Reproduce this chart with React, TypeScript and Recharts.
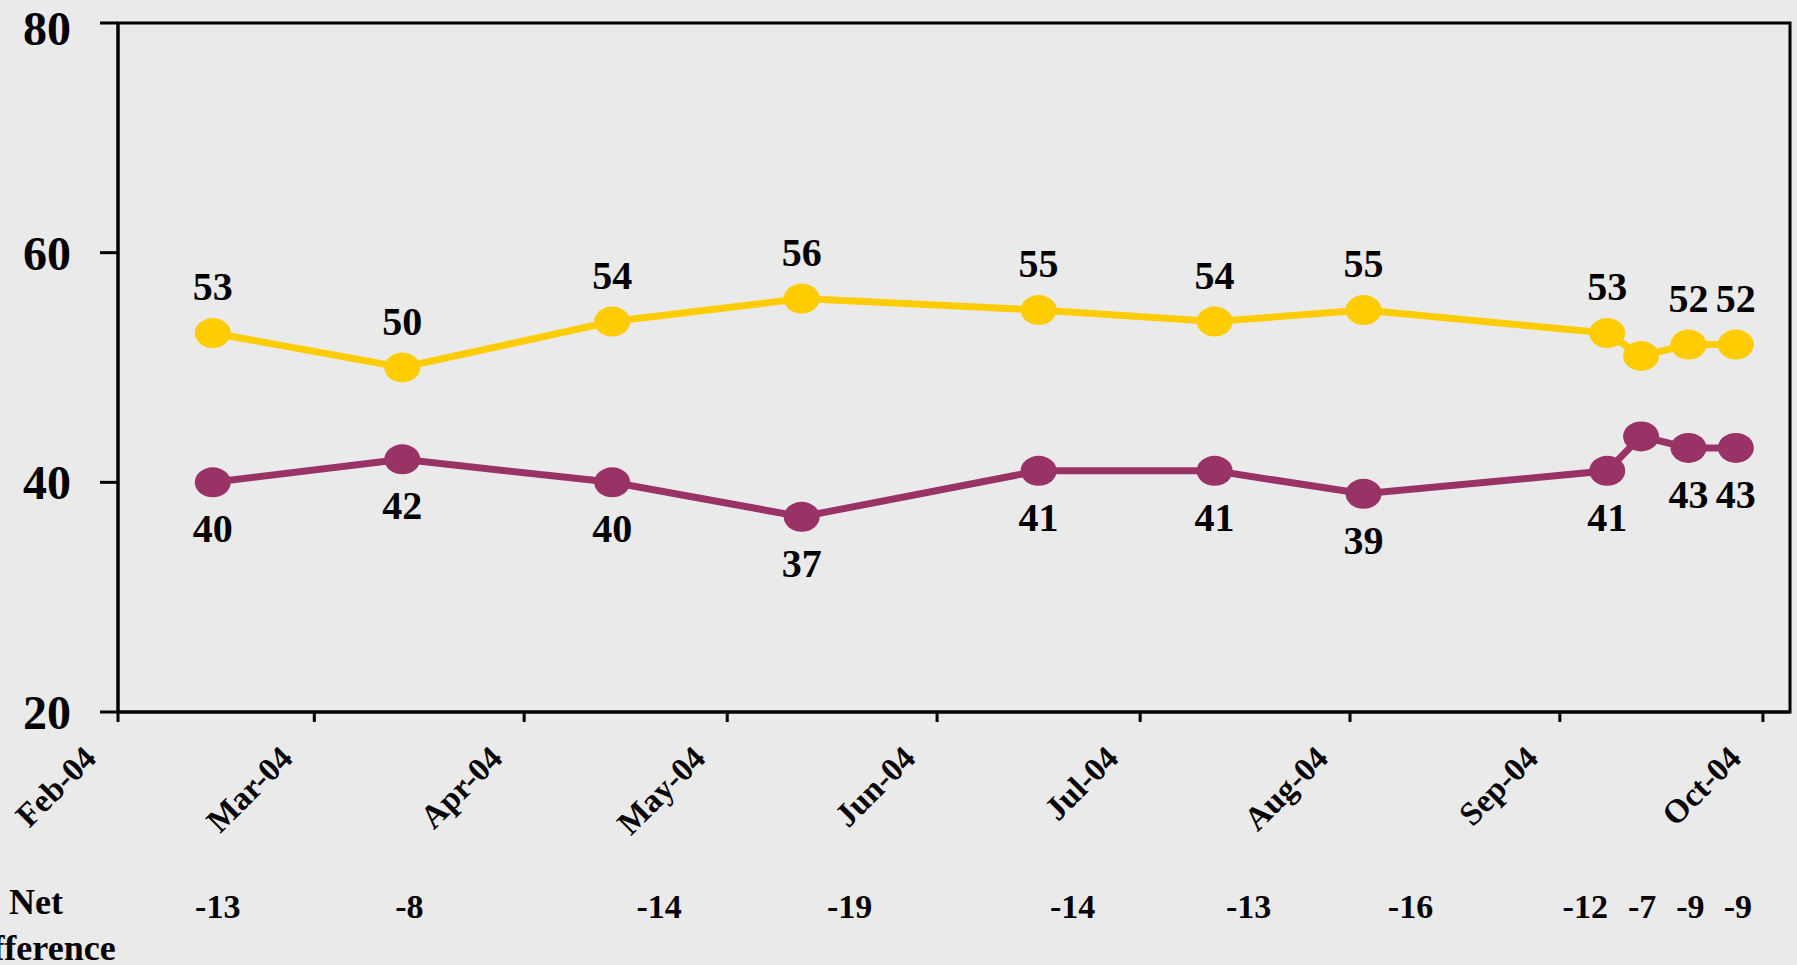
import React from 'react';
import { LineChart, Line, XAxis, YAxis, ReferenceArea, LabelList } from 'recharts';

// poll dates and results
const pollDates = [
  '2004-02-15', '2004-03-14', '2004-04-14', '2004-05-12', '2004-06-16', '2004-07-12',
  '2004-08-03', '2004-09-08', '2004-09-13', '2004-09-20', '2004-09-27',
];
const yellowValues = [53, 50, 54, 56, 55, 54, 55, 53, 51, 52, 52];
const purpleValues = [40, 42, 40, 37, 41, 41, 39, 41, 44, 43, 43];
const netDifference = [-13, -8, -14, -19, -14, -13, -16, -12, -7, -9, -9];
const unlabeledPoints = [8];

const monthTicks = [
  '2004-02-01', '2004-03-01', '2004-04-01', '2004-05-01', '2004-06-01',
  '2004-07-01', '2004-08-01', '2004-09-01', '2004-10-01',
];
const monthLabels = ['Feb-04', 'Mar-04', 'Apr-04', 'May-04', 'Jun-04', 'Jul-04', 'Aug-04', 'Sep-04', 'Oct-04'];
const axisStart = '2004-02-01';
const axisEnd = '2004-10-05';
const yTicks = [20, 40, 60, 80];

// small horizontal nudges of the net-difference texts, as placed in the original
const netLabelNudge = [5, 7, 47, 48, 34, 34, 47, -22, 1, 2, 2];

const YELLOW = '#FFCC00';
const PURPLE = '#993366';
const FONT = '"Liberation Serif", "Times New Roman", serif';

const dayOf = (s: string) => (Date.parse(s) - Date.parse(axisStart)) / 86400000;

const data = pollDates.map((d, i) => ({
  day: dayOf(d),
  yellow: yellowValues[i],
  purple: purpleValues[i],
  net: netDifference[i],
}));
const tickDays = monthTicks.map(dayOf);

const pos = (props: any) => {
  const vb = props.viewBox || {};
  return { x: props.x ?? vb.x, y: props.y ?? vb.y };
};

const makeDot = (color: string) => (props: any) => (
  <ellipse key={`${color}-${props.index}`} cx={props.cx} cy={props.cy} rx={18} ry={15} fill={color} />
);

const TopLabel = (props: any) => {
  if (unlabeledPoints.includes(props.index)) return null;
  const { x, y } = pos(props);
  return (
    <text x={x} y={y - 33} textAnchor="middle" fontSize={40} fontWeight="bold" fontFamily={FONT} fill="#000">
      {props.value}
    </text>
  );
};

const BottomLabel = (props: any) => {
  if (unlabeledPoints.includes(props.index)) return null;
  const { x, y } = pos(props);
  return (
    <text x={x} y={y + 60} textAnchor="middle" fontSize={40} fontWeight="bold" fontFamily={FONT} fill="#000">
      {props.value}
    </text>
  );
};

const NetLabel = (props: any) => {
  const { x } = pos(props);
  return (
    <text
      x={x + netLabelNudge[props.index]}
      y={918}
      textAnchor="middle"
      fontSize={34}
      fontWeight="bold"
      fontFamily={FONT}
      fill="#000"
    >
      {props.value}
    </text>
  );
};

const MonthTick = (props: any) => {
  const { x, y, payload } = props;
  const idx = tickDays.indexOf(payload.value);
  return (
    <g transform={`translate(${x - 20},${y + 36})`}>
      <text textAnchor="end" transform="rotate(-45)" fontSize={33} fontWeight="bold" fontFamily={FONT} fill="#000">
        {monthLabels[idx]}
      </text>
    </g>
  );
};

export default function App() {
  return (
    <div style={{ position: 'absolute', left: 0, top: 0, width: 1797, height: 965, background: '#eaeaea', overflow: 'hidden' }}>
      <LineChart width={1797} height={965} data={data} margin={{ top: 23, right: 7, bottom: 0, left: 0 }}>
        <XAxis
          dataKey="day"
          type="number"
          domain={[0, dayOf(axisEnd)]}
          ticks={tickDays}
          interval={0}
          height={253}
          axisLine={{ stroke: '#000', strokeWidth: 3 }}
          tickLine={{ stroke: '#000', strokeWidth: 3 }}
          tickSize={10}
          tick={<MonthTick />}
        />
        <YAxis
          domain={[20, 80]}
          ticks={yTicks}
          width={118}
          axisLine={{ stroke: '#000', strokeWidth: 3 }}
          tickLine={{ stroke: '#000', strokeWidth: 3 }}
          tickSize={18}
          tickMargin={29}
          tick={{ fontSize: 48, fontWeight: 'bold', fontFamily: FONT, fill: '#000' }}
        />
        <ReferenceArea x1={0} x2={dayOf(axisEnd)} y1={20} y2={80} fill="none" stroke="#000" strokeWidth={3} />
        <Line
          dataKey="yellow"
          stroke={YELLOW}
          strokeWidth={7}
          dot={makeDot(YELLOW)}
          activeDot={false}
          isAnimationActive={false}
        >
          <LabelList dataKey="yellow" content={<TopLabel />} />
        </Line>
        <Line
          dataKey="purple"
          stroke={PURPLE}
          strokeWidth={7}
          dot={makeDot(PURPLE)}
          activeDot={false}
          isAnimationActive={false}
        >
          <LabelList dataKey="purple" content={<BottomLabel />} />
          <LabelList dataKey="net" content={<NetLabel />} />
        </Line>
      </LineChart>
      <div
        style={{
          position: 'absolute', left: -64, top: 879, width: 200, textAlign: 'center',
          fontFamily: FONT, fontWeight: 'bold', fontSize: 36, lineHeight: '46px', color: '#000',
        }}
      >
        Net
        <br />
        Difference
      </div>
    </div>
  );
}
